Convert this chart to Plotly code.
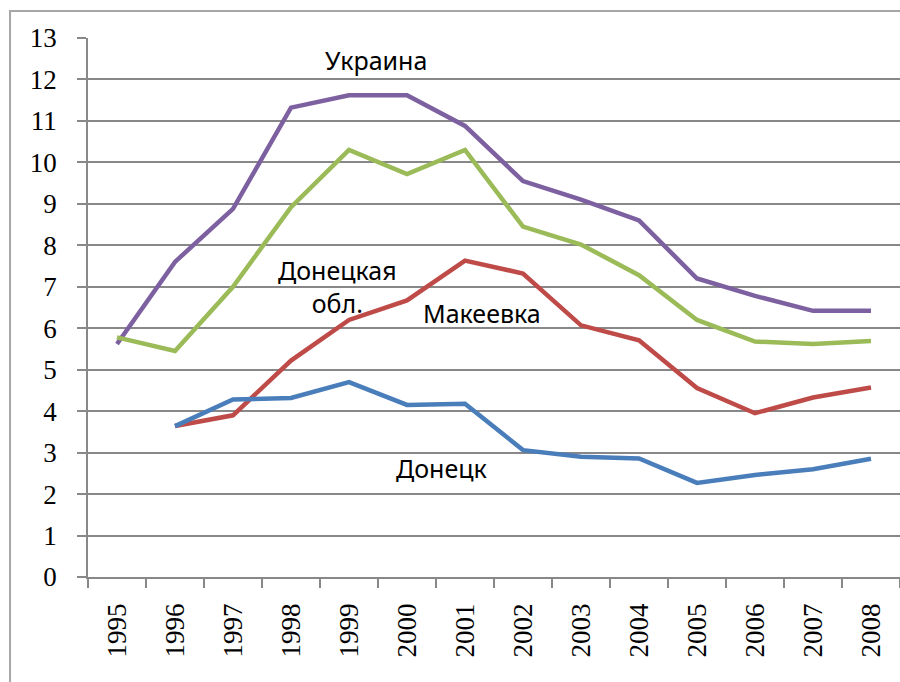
import plotly.graph_objects as go

# Years on the category axis
years = [str(y) for y in range(1995, 2009)]

# Series values by year (None where no data)
ukraine = [5.62, 7.6, 8.88, 11.32, 11.62, 11.62, 10.88, 9.55, 9.1, 8.6, 7.2, 6.78, 6.42, 6.42]
donetsk_oblast = [5.78, 5.45, 7.0, 8.92, 10.3, 9.72, 10.3, 8.45, 8.02, 7.28, 6.2, 5.68, 5.62, 5.69]
makeevka = [None, 3.64, 3.9, 5.22, 6.2, 6.67, 7.63, 7.32, 6.07, 5.71, 4.56, 3.95, 4.33, 4.57]
donetsk = [None, 3.64, 4.28, 4.32, 4.7, 4.15, 4.18, 3.06, 2.9, 2.86, 2.27, 2.46, 2.6, 2.85]

y_ticks = list(range(0, 14))

series = [
    (ukraine, "#7D60A0"),
    (donetsk_oblast, "#9BBB59"),
    (makeevka, "#BE4B48"),
    (donetsk, "#4A7EBB"),
]

fig = go.Figure()
for values, color in series:
    xs = [x for x, v in zip(years, values) if v is not None]
    ys = [v for v in values if v is not None]
    fig.add_trace(go.Scatter(x=xs, y=ys, mode="lines",
                             line=dict(color=color, width=4.5),
                             showlegend=False, hoverinfo="skip"))

label_font = dict(family="Noto Sans", size=25, color="#000000")
labels = [
    ("Украина", 4.47, 12.47),
    ("Донецкая<br>обл.", 3.81, 7.0),
    ("Макеевка", 6.29, 6.37),
    ("Донецк", 5.6, 2.63),
]
for text, x, y in labels:
    fig.add_annotation(x=x, y=y, xref="x", yref="y", text=text,
                       showarrow=False, font=label_font, align="center")

grid = "#888888"
tick_font = dict(family="Liberation Serif", size=27, color="#000000")
fig.update_xaxes(
    type="category", categoryorder="array", categoryarray=years,
    range=[-0.5, 13.5],
    tickson="boundaries", ticks="outside", ticklen=9, tickwidth=1.5, tickcolor=grid,
    showline=True, linecolor=grid, linewidth=1.5,
    tickangle=-90, ticklabelstandoff=14,
    tickfont=tick_font,
    showgrid=False, zeroline=False,
)
fig.update_yaxes(
    range=[0, 13], tickvals=y_ticks, ticktext=[str(v) for v in y_ticks],
    ticks="outside", ticklen=9, tickwidth=1.5, tickcolor=grid,
    showline=True, linecolor=grid, linewidth=1.5,
    showgrid=True, gridcolor=grid, gridwidth=1.5,
    ticklabelstandoff=15,
    tickfont=tick_font,
    zeroline=False,
)

# Outer chart frame
fig.add_shape(type="rect", xref="paper", yref="paper",
              x0=-0.096, x1=1.2, y0=-0.3, y1=1.05,
              line=dict(color="#a6a6a6", width=2), layer="below")

fig.update_layout(
    width=900, height=682,
    margin=dict(l=88, r=0, t=38, b=105),
    paper_bgcolor="white", plot_bgcolor="white",
)

fig.write_html("out.html")
